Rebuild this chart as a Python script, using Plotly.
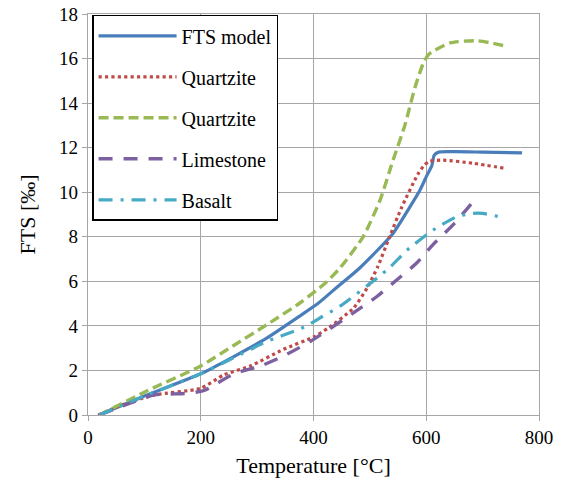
import plotly.graph_objects as go

# FTS model
fts_x = [20, 100, 200, 257, 317, 376, 410, 440, 482, 541, 570, 589, 602, 610, 614, 622, 650, 700, 770]
fts_y = [0, 0.85, 1.85, 2.6, 3.45, 4.45, 5.05, 5.7, 6.6, 8.15, 9.3, 10.1, 10.8, 11.2, 11.65, 11.8, 11.82, 11.8, 11.77]

# Quartzite (dotted)
q1_x = [18, 60, 118, 200, 241, 288, 347, 400, 426, 471, 495, 514, 535, 556, 585, 596, 605, 629, 683, 740]
q1_y = [0, 0.45, 0.9, 1.2, 1.8, 2.2, 2.95, 3.5, 3.9, 4.8, 5.7, 6.66, 8.0, 9.3, 10.8, 11.2, 11.38, 11.44, 11.3, 11.07]

# Quartzite (dashed)
q2_x = [20, 106, 200, 257, 317, 377, 420, 447, 488, 518, 541, 562, 580, 595, 605, 642, 690, 743]
q2_y = [0, 1.1, 2.2, 3.1, 4.05, 5.05, 5.9, 6.6, 8.0, 9.64, 11.43, 13.0, 14.7, 15.8, 16.2, 16.7, 16.8, 16.55]

# Limestone
ls_x = [20, 71, 118, 176, 206, 259, 306, 347, 394, 470, 513, 548, 582, 612, 650, 692]
ls_y = [0, 0.5, 0.9, 0.97, 1.1, 1.85, 2.2, 2.65, 3.3, 4.57, 5.33, 6.07, 6.8, 7.65, 8.6, 9.85]

# Basalt
bs_x = [20, 100, 200, 257, 317, 370, 388, 411, 448, 513, 536, 566, 612, 654, 683, 700, 730]
bs_y = [0, 0.85, 1.85, 2.55, 3.3, 3.8, 4.0, 4.35, 4.9, 6.15, 6.64, 7.4, 8.3, 8.9, 9.05, 9.05, 8.9]

x_ticks = [0, 200, 400, 600, 800]
y_ticks = [0, 2, 4, 6, 8, 10, 12, 14, 16, 18]

series = [
    ("FTS model", fts_x, fts_y, "#4A7EBB", "solid", 3.2),
    ("Quartzite", q1_x, q1_y, "#BE4B48", "dot", 3.2),
    ("Quartzite", q2_x, q2_y, "#98B954", "10px,5px", 3.4),
    ("Limestone", ls_x, ls_y, "#7D60A0", "14px,11px", 3.4),
    ("Basalt", bs_x, bs_y, "#46AAC5", "14px,8px,3px,8px", 3.2),
]

fig = go.Figure()
for i, (name, xs, ys, col, dash, w) in enumerate(series):
    fig.add_trace(go.Scatter(
        x=xs, y=ys, mode="lines", name=name, legendgroup=f"g{i}",
        line=dict(color=col, dash=dash, width=w, shape="spline", smoothing=0.6),
    ))

font_family = "Liberation Serif, serif"
fig.update_layout(
    width=565, height=483,
    margin=dict(l=88, r=26, t=14, b=68),
    paper_bgcolor="white", plot_bgcolor="white",
    font=dict(family=font_family, size=19, color="black"),
    showlegend=True,
    legend=dict(
        x=0.009, y=0.998, xanchor="left", yanchor="top",
        bgcolor="white", bordercolor="black", borderwidth=1.5,
        font=dict(family=font_family, size=20, color="black"),
        tracegroupgap=12, itemwidth=78,
    ),
    xaxis=dict(
        range=[0, 800], tickvals=x_ticks, ticktext=[str(v) for v in x_ticks],
        showgrid=True, gridcolor="#A6A6A6", gridwidth=1.3,
        showline=True, linecolor="#A6A6A6", linewidth=1.3, mirror=True,
        ticks="outside", ticklen=5, tickcolor="#A6A6A6", zeroline=False,
        automargin=False,
        tickfont=dict(family=font_family, size=19),
        title=dict(text="Temperature [°C]", font=dict(family=font_family, size=22), standoff=10),
    ),
    yaxis=dict(
        range=[0, 18], tickvals=y_ticks, ticktext=[str(v) for v in y_ticks],
        showgrid=True, gridcolor="#A6A6A6", gridwidth=1.3,
        showline=True, linecolor="#A6A6A6", linewidth=1.3, mirror=True,
        ticks="outside", ticklen=5, tickcolor="#A6A6A6", zeroline=False,
        automargin=False,
        tickfont=dict(family=font_family, size=19),
        title=dict(text="FTS [‰]", font=dict(family=font_family, size=22), standoff=17),
    ),
)

fig.write_html("out.html", config={"displayModeBar": False},
               post_script="document.body.style.margin='0px';")
